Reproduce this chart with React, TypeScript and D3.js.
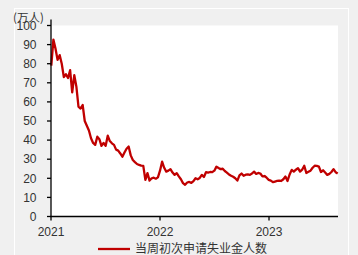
import React from "react";
import * as d3 from "d3";

const startDate = "2021-01-02";
const claims: number[] = [
  79, 92.6, 88, 82, 84.5, 80, 73, 74.5, 72.5, 76.6,
  65, 74, 68, 57.5, 56.5, 58.4, 50, 47.5, 45, 41,
  38.5, 37.5, 41.8, 40.5, 37, 38.5, 37, 42.3, 39.5, 38.3,
  37.5, 35, 34.5, 33, 31.3, 33.5, 35.5, 36.6, 32, 29.6,
  28.5, 27.5, 27, 26.6, 26.5, 19.2, 22.7, 18.8, 20, 20.3,
  19.8, 20.5, 24, 28.7, 25.5, 23.5, 24, 24.8, 23, 21.8,
  22.7, 21, 19.5, 17.5, 16.6, 17.8, 18.1, 17.6, 18.5, 20,
  19.5, 20.2, 21.8, 20.7, 23.2, 23, 23.3, 23.2, 24, 26.1,
  25.4, 24.8, 25, 23.8, 23, 22, 21.3, 20.8, 20, 18.8,
  21.5, 22.5, 21.3, 21.9, 22, 21.8, 22.5, 23.5, 22.3, 22.8,
  22.5, 21, 21.2, 20.3, 19.2, 18.8, 18, 18.3, 18.6, 18.8,
  18.6, 19.5, 20.9, 18.6, 22, 24.4, 23.5, 24.5, 25.3, 23.5,
  24.5, 26.6, 22.8, 23.4, 24, 25.5, 26.6, 26.5, 26.1, 23.3,
  24.2, 23, 21.8, 22.3, 23.3, 24.8, 23.2, 22.5,
];
const yTicks = [0, 10, 20, 30, 40, 50, 60, 70, 80, 90, 100];
const xTickYears = [2021, 2022, 2023];
const unitLabel = "(万人)";
const seriesName = "当周初次申请失业金人数";

export default function App() {
  const W = 358, H = 255;
  const left = 51, right = 338, top = 25.5, bottom = 216.5;
  const t0 = d3.timeParse("%Y-%m-%d")(startDate) as Date;
  const data = claims.map((v, i) => ({ d: d3.timeDay.offset(t0, i * 7), v }));
  const x = d3.scaleTime()
    .domain([new Date(2021, 0, 1), new Date(2023, 7, 20)])
    .range([left, right]);
  const y = d3.scaleLinear().domain([0, 100]).range([bottom, top]);
  const line = d3.line<{ d: Date; v: number }>().x(p => x(p.d)).y(p => y(p.v));
  const font = "'Liberation Sans', Arial, sans-serif";
  const cjk = "'Noto Sans CJK SC', sans-serif";
  return (
    <svg width={W} height={H} style={{ position: "absolute", left: 0, top: 0, display: "block" }}>
      <rect x={0} y={0} width={W} height={H} fill="#f0f0f0" />
      <rect x={14.5} y={8.5} width={334} height={260} fill="none" stroke="#ffffff" strokeWidth={1} />
      <rect x={left} y={top} width={right - left} height={bottom - top} fill="#ffffff" />
      <path d={line(data) || ""} fill="none" stroke="#c00000" strokeWidth={2.3} strokeLinejoin="round" />
      <line x1={left} x2={left} y1={top - 6} y2={bottom} stroke="#000" strokeWidth={1.3} />
      <line x1={left - 0.6} x2={right} y1={bottom} y2={bottom} stroke="#000" strokeWidth={1.3} />
      {yTicks.map(t => (
        <g key={t}>
          <line x1={left - 4} x2={left} y1={y(t)} y2={y(t)} stroke="#000" strokeWidth={1.3} />
          <text x={36.5} y={y(t)} dy="0.35em" textAnchor="end" fontSize={12} fontFamily={font} fill="#333">{t}</text>
        </g>
      ))}
      {xTickYears.map(yr => {
        const px = x(new Date(yr, 0, 1));
        return (
          <g key={yr}>
            <line x1={px} x2={px} y1={bottom} y2={bottom + 4} stroke="#000" strokeWidth={1.3} />
            <text x={px} y={236} textAnchor="middle" fontSize={12} fontFamily={font} fill="#333">{yr}</text>
          </g>
        );
      })}
      <text x={13} y={21.5} fontSize={11.5} fontFamily={cjk} fill="#333">{unitLabel}</text>
      <line x1={98} x2={130} y1={249} y2={249} stroke="#c00000" strokeWidth={2.3} />
      <text x={135} y={249} dy="0.32em" fontSize={12} fontFamily={cjk} fill="#333">{seriesName}</text>
    </svg>
  );
}
